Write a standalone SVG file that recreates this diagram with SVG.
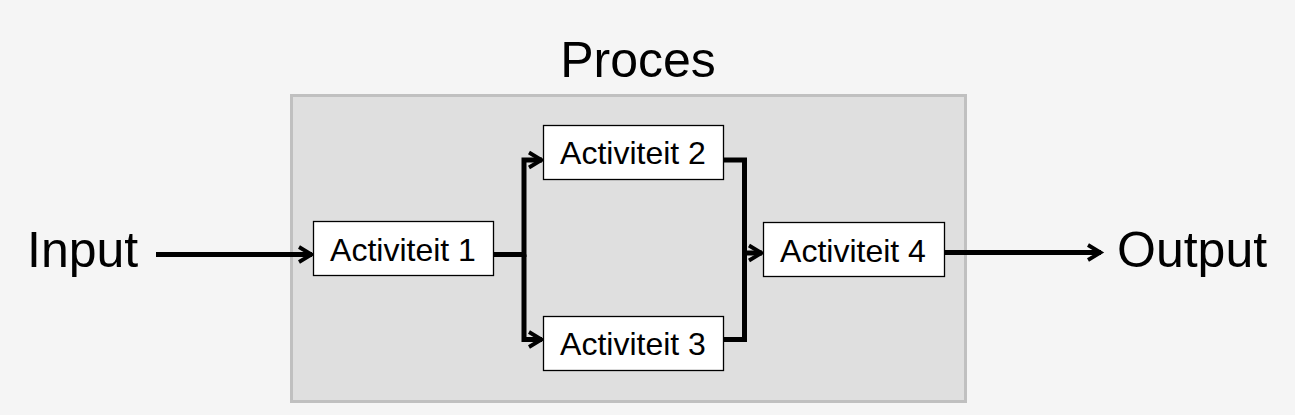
<svg xmlns="http://www.w3.org/2000/svg" width="1295" height="415" viewBox="0 0 1295 415">
<style>
.lbl{font-family:"Liberation Sans",Arial,sans-serif;fill:#000}
.big{font-size:50px}
.act{font-size:32px;text-anchor:middle}
.box{fill:#fff;stroke:#000;stroke-width:1.3}
.con{fill:none;stroke:#000;stroke-width:5;stroke-linejoin:miter;stroke-linecap:butt}
</style>
<defs>
<marker id="arr" markerUnits="userSpaceOnUse" markerWidth="24" markerHeight="24" viewBox="0 0 24 24" refX="18" refY="12" orient="auto">
<path d="M5,4.5 L17.5,12 L5,19.5" fill="none" stroke="#000" stroke-width="3.8" stroke-linejoin="miter"/>
</marker>
</defs>
<rect width="1295" height="415" fill="#f5f5f5"/>
<g id="proces">
<rect x="291.5" y="95.5" width="674" height="306" fill="#dfdfdf" stroke="#c0c0c0" stroke-width="3"/>
<text class="lbl big" x="638" y="77" text-anchor="middle">Proces</text>
</g>
<g id="input"><text class="lbl big" x="27" y="267">Input</text></g>
<g id="output"><text class="lbl big" x="1117" y="267">Output</text></g>
<g id="connectors">
<path class="con" d="M156,254.5 H312" marker-end="url(#arr)"/>
<path class="con" d="M494,254.5 H524 V160 H542" marker-end="url(#arr)"/>
<path class="con" d="M524,254.5 V339.5 H542" marker-end="url(#arr)"/>
<path class="con" d="M724,160 H744.5 V339.5 H724"/>
<path class="con" d="M744.5,253 H762" marker-end="url(#arr)"/>
<path class="con" d="M945,252.5 H1101" marker-end="url(#arr)"/>
</g>
<g id="act1"><rect class="box" x="313.5" y="221.5" width="180" height="54"/><text class="lbl act" x="403" y="261">Activiteit 1</text></g>
<g id="act2"><rect class="box" x="543.5" y="125.5" width="180" height="54"/><text class="lbl act" x="633" y="164">Activiteit 2</text></g>
<g id="act3"><rect class="box" x="543.5" y="316.5" width="180" height="54"/><text class="lbl act" x="633" y="355">Activiteit 3</text></g>
<g id="act4"><rect class="box" x="763.5" y="222.5" width="181" height="54"/><text class="lbl act" x="853" y="262">Activiteit 4</text></g>
</svg>
